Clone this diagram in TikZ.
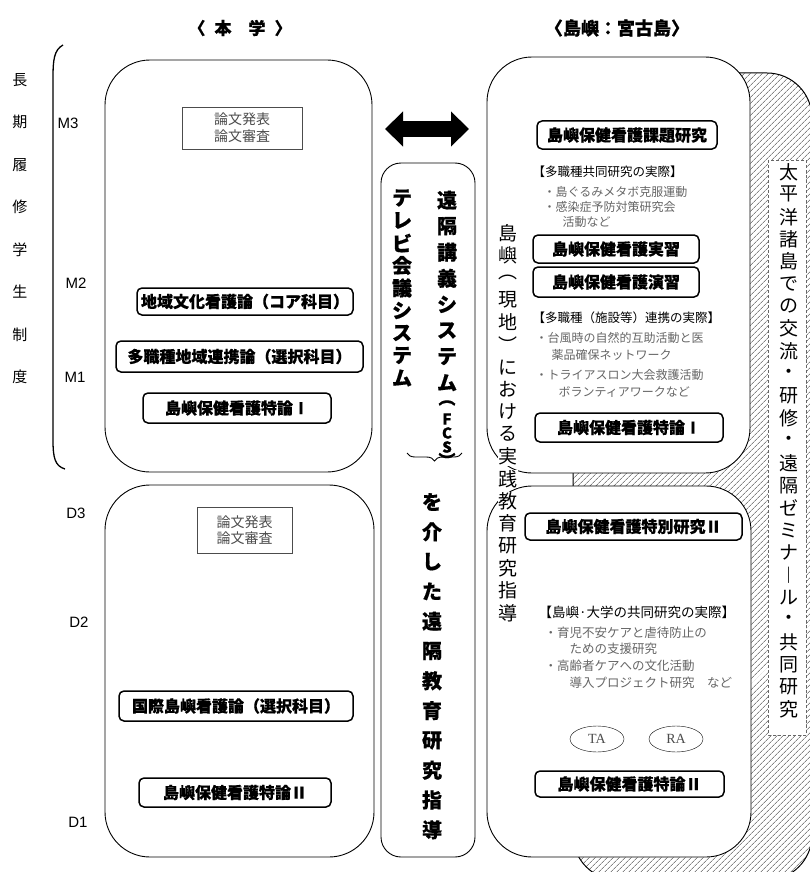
\documentclass[tikz,border=0pt]{standalone}
\usepackage{fontspec}
\setmainfont{Liberation Sans}
\newfontfamily\jp{Noto Sans CJK JP}[BoldFeatures={FakeBold=0.6}]
\newfontfamily\tafont{Liberation Serif}
\usetikzlibrary{arrows.meta,patterns.meta,decorations.pathreplacing,shapes.geometric}

% one character per node, stacked downwards
\newcommand{\vcol}[6]{%
  \foreach \c [count=\i] in {#6}
    \node[#5] (#1\i) at (#2,{#3+(\i-1)*#4}) {\c};}

\begin{document}
\begin{tikzpicture}[x=1pt,y=-1pt,
  panel/.style={draw,line width=0.9,rounded corners=45,fill=white},
  subj/.style={draw,line width=1.5,rounded corners=5,inner sep=0,font=\jp\bfseries\fontsize{16}{18}\selectfont},
  paper/.style={draw=black!70,line width=0.8,align=center,text=black!70,font=\jp\fontsize{14}{18}\selectfont},
  head/.style={anchor=west,font=\jp\fontsize{12.5}{14}\selectfont},
  note/.style={anchor=west,text=black!60,font=\jp\fontsize{12}{14}\selectfont},
  level/.style={font=\fontsize{15}{18}\selectfont},
  vbold/.style={inner sep=0,font=\jp\bfseries\fontsize{20}{22}\selectfont},
  vletter/.style={inner sep=0,font=\jp\bfseries\fontsize{15}{16}\selectfont},
  vplain/.style={inner sep=0.5,fill=white,font=\jp\fontsize{19}{21}\selectfont},
  role/.style={draw,ellipse,minimum width=54,minimum height=26,inner sep=0,text=black!70,font=\tafont\fontsize{14}{16}\selectfont}]
\useasboundingbox (0,0) rectangle (809,872);

% headers
\node[font=\jp\bfseries\fontsize{17}{20}\selectfont] (hdUniv) at (240,28) {〈\hspace{9pt}本　学\hspace{9pt}〉};
\node[font=\jp\bfseries\fontsize{18}{20}\selectfont] (hdIsle) at (617,28) {〈島嶼：宮古島〉};

% hatched backdrop and its label strip
\draw[line width=1,rounded corners=45,pattern={Lines[angle=45,distance=4pt,line width=0.6pt]},pattern color=black!75] (573,73) rectangle (812,880);
\draw[fill=white,draw=black!60,densely dashed,line width=0.6] (768,160) rectangle (806,735);

% panels
\node[panel,minimum width=267,minimum height=412] (univM) at (238.5,266) {};
\node[panel,minimum width=269,minimum height=372] (univD) at (239.5,671) {};
\node[panel,rounded corners=20,minimum width=94,minimum height=694] (relay) at (428,510) {};
\node[panel,minimum width=263,minimum height=416] (isleT) at (618.5,265) {};
\node[panel,minimum width=264,minimum height=371] (isleB) at (619,671.5) {};

% left bracket and grade labels
\draw[line width=1.3] (63,45) .. controls (54,50) and (53,60) .. (53,78) -- (53,440) .. controls (53,458) and (55,466) .. (65,469);
\vcol{sys}{20}{80}{42.4}{vplain,fill=none,font=\jp\fontsize{15}{17}\selectfont}{長,期,履,修,学,生,制,度}
\node[level] (m3) at (68,123) {M3};
\node[level] (m2) at (76,283) {M2};
\node[level] (m1) at (75,377) {M1};
\node[level] (d3) at (76,513) {D3};
\node[level] (d2) at (79,622) {D2};
\node[level] (d1) at (78,822) {D1};

% university side
\node[paper,minimum width=120,minimum height=42,inner sep=0] (paperM) at (242,128) {論文発表\\[-1pt]論文審査};
\node[subj,minimum width=216,minimum height=27] (cult) at (245,301.5) {地域文化看護論（コア科目）};
\node[subj,minimum width=247,minimum height=31] (multi) at (239.5,356.5) {多職種地域連携論（選択科目）};
\node[subj,minimum width=188,minimum height=30] (specIL) at (237,408) {島嶼保健看護特論Ⅰ};
\node[paper,minimum width=95,minimum height=46,inner sep=0] (paperD) at (244.5,530) {論文発表\\[-2pt]論文審査};
\node[subj,minimum width=234,minimum height=30] (intl) at (236,706) {国際島嶼看護論（選択科目）};
\node[subj,minimum width=192,minimum height=29] (specIIL) at (235,792.5) {島嶼保健看護特論Ⅱ};

% link between the two sites
\coordinate (arrL) at (385,129);
\coordinate (arrR) at (469,129);
\draw[line width=15,{Triangle[length=18pt,width=34pt]}-{Triangle[length=18pt,width=34pt]}] (arrL) -- (arrR);
\vcol{tv}{402}{198}{22.5}{vbold}{テ,レ,ビ,会,議,シ,ス,テ,ム}
\vcol{fcs}{447}{200}{26.1}{vbold}{遠,隔,講,義,シ,ス,テ,ム}
\node[vletter,font=\jp\bfseries\fontsize{17}{18}\selectfont] (fcsA) at (447,403) {︵};
\node[vletter] (fcsF) at (447,419) {F};
\node[vletter] (fcsC) at (447,433) {C};
\node[vletter] (fcsS) at (447,447) {S};
\node[vletter,font=\jp\bfseries\fontsize{17}{18}\selectfont] (fcsB) at (447,460) {︶};
\coordinate (brL) at (407,453);
\coordinate (brR) at (462,453);
\draw[line width=0.9,decorate,decoration={brace,amplitude=8,mirror}] (brL) -- (brR);
\vcol{via}{432}{502}{29.8}{vbold}{を,介,し,た,遠,隔,教,育,研,究,指,導}

% island side, upper panel
\node[subj,minimum width=180,minimum height=28] (topic) at (627,135) {島嶼保健看護課題研究};
\node[head] (coop) at (529,172) {【多職種共同研究の実際】};
\node[note] (coop1) at (540,192) {・島ぐるみメタボ克服運動};
\node[note] (coop2) at (540,207) {・感染症予防対策研究会};
\node[note] (coop3) at (559,222) {活動など};
\node[subj,minimum width=166,minimum height=28] (pract) at (616,249) {島嶼保健看護実習\hspace{18pt}};
\node[subj,minimum width=166,minimum height=30] (exer) at (616,282) {島嶼保健看護演習\hspace{14pt}};
\node[head] (link) at (529,318) {【多職種（施設等）連携の実際】};
\node[note] (link1) at (532,338) {・台風時の自然的互助活動と医};
\node[note] (link2) at (548,355) {薬品確保ネットワーク};
\node[note] (link3) at (532,375) {・トライアスロン大会救護活動};
\node[note] (link4) at (555,392) {ボランティアワークなど};
\node[subj,minimum width=188,minimum height=29] (specI) at (629,427.5) {島嶼保健看護特論Ⅰ};

% island side, lower panel
\node[subj,minimum width=217,minimum height=27] (resII) at (633.5,526.5) {島嶼保健看護特別研究Ⅱ};
\node[head,font=\jp\fontsize{13.5}{15}\selectfont] (joint) at (535,612) {【島嶼·大学の共同研究の実際】};
\node[note,font=\jp\fontsize{12.5}{14}\selectfont] (joint1) at (541,633) {・育児不安ケアと虐待防止の};
\node[note,font=\jp\fontsize{12.5}{14}\selectfont] (joint2) at (566,649) {ための支援研究};
\node[note,font=\jp\fontsize{12.5}{14}\selectfont] (joint3) at (541,666) {・高齢者ケアへの文化活動};
\node[note,font=\jp\fontsize{12.5}{14}\selectfont] (joint4) at (566,683) {導入プロジェクト研究　など};
\node[role] (ta) at (597,739) {TA};
\node[role] (ra) at (676,739) {RA};
\node[subj,minimum width=189,minimum height=26] (specII) at (629.5,784) {島嶼保健看護特論Ⅱ};

% vertical captions
\vcol{site}{508}{233}{22.35}{vplain}{島,嶼,︵,現,地,︶,に,お,け,る,実,践,教,育,研,究,指,導}
\vcol{pac}{789}{172}{22.4}{vplain,fill=none}{太,平,洋,諸,島,で,の,交,流,・,研,修,・,遠,隔,ゼ,ミ,ナ,︱,ル,・,共,同,研,究}
\end{tikzpicture}
\end{document}
